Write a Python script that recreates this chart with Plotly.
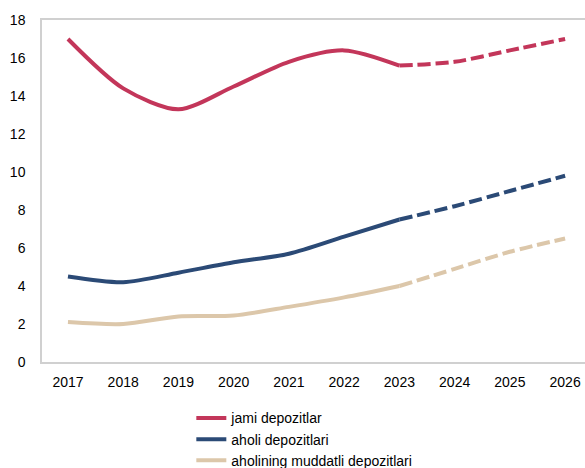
import plotly.graph_objects as go

years = [2017, 2018, 2019, 2020, 2021, 2022, 2023, 2024, 2025, 2026]
last_actual = 2023

jami_depozitlar = [17.0, 14.4, 13.3, 14.5, 15.8, 16.4, 15.6, 15.8, 16.4, 17.0]
aholi_depozitlari = [4.5, 4.2, 4.7, 5.25, 5.7, 6.6, 7.5, 8.2, 9.0, 9.8]
muddatli_depozitlari = [2.1, 2.0, 2.4, 2.45, 2.9, 3.4, 4.0, 4.9, 5.8, 6.5]

series = [
    ("jami depozitlar", jami_depozitlar, "#C3365A"),
    ("aholi depozitlari", aholi_depozitlari, "#2B4A76"),
    ("aholining muddatli depozitlari", muddatli_depozitlari, "#DCC7AA"),
]

FONT = "Liberation Sans, Arial, sans-serif"

fig = go.Figure()
split = years.index(last_actual)
for name, values, color in series:
    # actual values: solid line
    fig.add_trace(go.Scatter(
        x=years[:split + 1], y=values[:split + 1], name=name,
        mode="lines", line=dict(color=color, width=4, shape="spline", smoothing=0.8),
        hoverinfo="x+y",
    ))
    # forecast values: dashed line
    fig.add_trace(go.Scatter(
        x=years[split:], y=values[split:], name=name, showlegend=False,
        mode="lines", line=dict(color=color, width=4, shape="spline", smoothing=0.8,
                                dash="13px,5px"),
        hoverinfo="x+y",
    ))

fig.update_layout(
    width=585, height=468,
    margin=dict(l=42, r=0, t=20, b=106, autoexpand=False),
    paper_bgcolor="white", plot_bgcolor="white",
    font=dict(family=FONT, size=14, color="#000000"),
    showlegend=True,
    legend=dict(
        orientation="v", x=0.275, xanchor="left", y=-0.118, yanchor="top",
        font=dict(family=FONT, size=14, color="#000000"),
        bgcolor="rgba(0,0,0,0)", tracegroupgap=0,
    ),
    xaxis=dict(
        range=[2016.53, 2026.36], tickmode="array", tickvals=years,
        ticktext=[str(y) for y in years],
        showgrid=False, zeroline=False,
        showline=True, linecolor="#D0D0D0", linewidth=1.5, mirror=True,
        ticks="", ticklabelstandoff=6,
    ),
    yaxis=dict(
        range=[0, 18], dtick=2, showgrid=False, zeroline=False,
        showline=True, linecolor="#D0D0D0", linewidth=1.5,
        ticks="", ticklabelstandoff=12,
    ),
)

fig.write_html("out.html")
